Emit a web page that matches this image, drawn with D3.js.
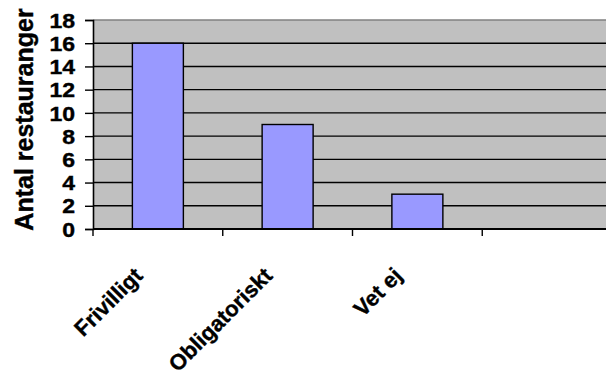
<!DOCTYPE html>
<html>
<head>
<meta charset="utf-8">
<script src="https://cdn.jsdelivr.net/npm/d3@7"></script>
<style>
  body { margin: 0; background: #fff; overflow: hidden; }
  text { font-family: "Liberation Sans", Arial, sans-serif; font-weight: bold; fill: #000; stroke: #000; stroke-width: 0.4px; }
</style>
</head>
<body>
<div id="chart"></div>
<script>
// data
const categories = ["Frivilligt", "Obligatoriskt", "Vet ej", ""];
const counts = [16, 9, 3, null];
const yTicks = [0, 2, 4, 6, 8, 10, 12, 14, 16, 18];

const width = 606, height = 376;
const margin = { top: 20, right: -6, bottom: 147, left: 93 };

const svg = d3.select("#chart")
  .append("svg")
  .attr("width", width)
  .attr("height", height)
  .style("display", "block");

const x = d3.scaleBand()
  .domain(categories)
  .range([margin.left, width - margin.right])
  .padding(0);

const y = d3.scaleLinear()
  .domain([0, 18])
  .range([height - margin.bottom, margin.top]);

// plot area
svg.append("rect")
  .attr("x", margin.left)
  .attr("y", margin.top)
  .attr("width", width - margin.right - margin.left)
  .attr("height", y(0) - margin.top)
  .attr("fill", "#c0c0c0");

// gridlines
svg.append("g")
  .selectAll("line")
  .data(yTicks.filter(d => d > 0 && d < 18))
  .join("line")
  .attr("x1", margin.left)
  .attr("x2", width - margin.right)
  .attr("y1", d => y(d))
  .attr("y2", d => y(d))
  .attr("stroke", "#000")
  .attr("stroke-width", 1.4);

svg.append("line")
  .attr("x1", margin.left)
  .attr("x2", width - margin.right)
  .attr("y1", y(18))
  .attr("y2", y(18))
  .attr("stroke", "#808080")
  .attr("stroke-width", 1.4);

// bars
const barW = x.bandwidth() * 0.393;
svg.append("g")
  .selectAll("rect")
  .data(categories.map((c, i) => ({ c, v: counts[i] })).filter(d => d.v != null))
  .join("rect")
  .attr("x", d => x(d.c) + (x.bandwidth() - barW) / 2)
  .attr("y", d => y(d.v))
  .attr("width", barW)
  .attr("height", d => y(0) - y(d.v))
  .attr("fill", "#9999ff")
  .attr("stroke", "#000")
  .attr("stroke-width", 1.4);

// y axis
const yAxis = svg.append("g")
  .attr("transform", `translate(${margin.left},0)`)
  .call(d3.axisLeft(y).tickValues(yTicks).tickSize(8).tickPadding(10));
yAxis.select(".domain").attr("stroke", "#000").attr("stroke-width", 1.6);
yAxis.selectAll(".tick line").attr("stroke", "#000").attr("stroke-width", 1.4);
// digits in the picture are a bit wider than plain Arial, so stretch them sideways
yAxis.selectAll(".tick text")
  .attr("font-size", 20)
  .attr("font-family", "'Liberation Sans', Arial, sans-serif")
  .attr("font-weight", "bold")
  .attr("x", -18 / 1.15)
  .attr("transform", "scale(1.15,1)")
  .attr("dy", "0.36em");

// x axis
svg.append("line")
  .attr("x1", margin.left)
  .attr("x2", width - margin.right)
  .attr("y1", y(0))
  .attr("y2", y(0))
  .attr("stroke", "#000")
  .attr("stroke-width", 2);

const bounds = categories.map(c => x(c)).concat([x(categories[categories.length - 1]) + x.bandwidth()]);
svg.append("g")
  .selectAll("line")
  .data(bounds)
  .join("line")
  .attr("x1", d => d)
  .attr("x2", d => d)
  .attr("y1", y(0))
  .attr("y2", y(0) + 7)
  .attr("stroke", "#000")
  .attr("stroke-width", 1.4);

svg.append("g")
  .selectAll("text")
  .data(categories.filter(c => c !== ""))
  .join("text")
  .attr("transform", d => `translate(${x(d) + x.bandwidth() / 2 - 14},${y(0) + 48}) rotate(-45)`)
  .attr("text-anchor", "end")
  .attr("font-size", 22)
  .text(d => d);

// y label
svg.append("text")
  .attr("transform", `translate(33,${(margin.top + y(0)) / 2 - 5}) rotate(-90)`)
  .attr("text-anchor", "middle")
  .attr("font-size", 25)
  .text("Antal restauranger");
</script>
</body>
</html>
